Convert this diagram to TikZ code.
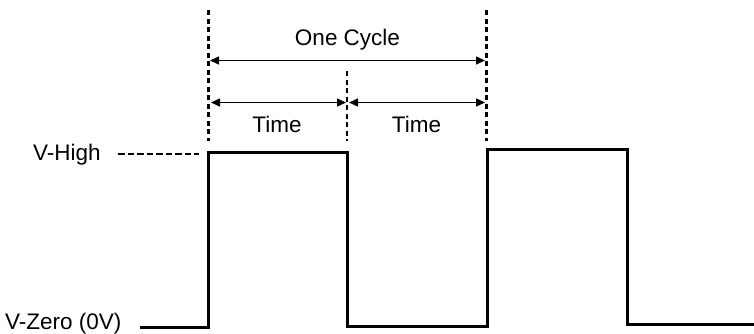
\documentclass[tikz,border=0pt]{standalone}
\usepackage{fontspec}
\setmainfont{Liberation Sans}
\usetikzlibrary{arrows.meta}
\begin{document}
\begin{tikzpicture}[x=1pt,y=-1pt,
  lbl/.style={inner sep=0pt,font=\fontsize{22.5}{26}\selectfont},
  wave/.style={line width=3pt,line join=miter},
  guide/.style={line width=2.5pt,dash pattern=on 5pt off 3.5pt},
  hguide/.style={line width=2pt,dash pattern=on 6.5pt off 3pt},
  dim/.style={line width=1.4pt,{Triangle[length=9pt,width=8pt]}-{Triangle[length=9pt,width=8pt]}}]
\useasboundingbox (0,0) rectangle (754,333);
% waveform corners
\coordinate (w0) at (140,327);
\coordinate (w1) at (208,327);
\coordinate (w2) at (208,152);
\coordinate (w3) at (347,152);
\coordinate (w4) at (347,326.5);
\coordinate (w5) at (487,326.5);
\coordinate (w6) at (487,149.5);
\coordinate (w7) at (627,149.5);
\coordinate (w8) at (627,324.5);
\coordinate (w9) at (754,324.5);
\draw[wave] (w0) -- (w1) -- (w2) -- (w3) -- (w4) -- (w5) -- (w6) -- (w7) -- (w8) -- (w9);
% guides
\coordinate (g1t) at (208.5,10);   \coordinate (g1b) at (208.5,141);
\coordinate (g2t) at (347,71);     \coordinate (g2b) at (347,141);
\coordinate (g3t) at (486.5,10);   \coordinate (g3b) at (486.5,141);
\draw[guide] (g1t) -- (g1b);
\draw[guide] (g2t) -- (g2b);
\draw[guide] (g3t) -- (g3b);
% labels
\node[lbl,anchor=base west] (vh) at (33,160) {V-High};
\node[lbl,anchor=base west] (vz) at (5,329) {V-Zero (0V)};
\node[lbl,anchor=base] (oc) at (347.5,45) {One Cycle};
\node[lbl,anchor=base] (t1) at (277,132) {Time};
\node[lbl,anchor=base] (t2) at (416.5,132) {Time};
\coordinate (hs) at (118,153.5); \coordinate (he) at (199,153.5);
\draw[hguide] (hs) -- (he);
% dimension arrows
\coordinate (a1) at (210,60.5);  \coordinate (a2) at (485,60.5);
\coordinate (b1) at (211,102.5); \coordinate (b2) at (346,102.5);
\coordinate (c1) at (349,102.5); \coordinate (c2) at (485,102.5);
\draw[dim] (a1) -- (a2);
\draw[dim] (b1) -- (b2);
\draw[dim] (c1) -- (c2);
\end{tikzpicture}
\end{document}
